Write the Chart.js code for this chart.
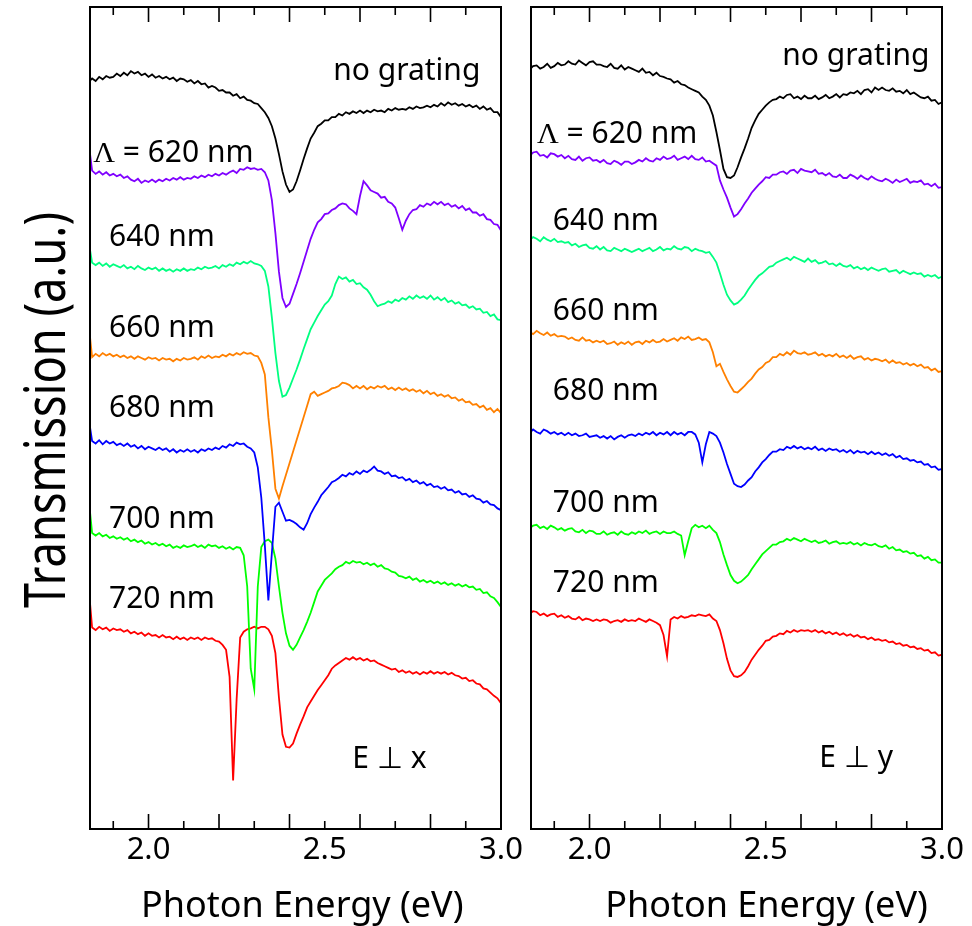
<!DOCTYPE html>
<html>
<head>
<meta charset="utf-8">
<script src="https://cdn.jsdelivr.net/npm/chart.js@4.4.1/dist/chart.umd.min.js"></script>
<style>
  html, body { margin: 0; padding: 0; background: #fff; }
  #wrap { position: relative; width: 972px; height: 926px; }
  canvas { position: absolute; top: 0; }
  #left-panel { left: 0; }
  #right-panel { left: 510px; }
</style>
</head>
<body>
<div id="wrap">
  <canvas id="left-panel" width="528" height="926"></canvas>
  <canvas id="right-panel" width="462" height="926"></canvas>
</div>
<script>
/* ---------- data ---------- */
// photon energy (eV), one reading every 10 meV
const energyGrid = [
  1.83,1.84,1.85,1.86,1.87,1.88,1.89,1.90,1.91,1.92,
  1.93,1.94,1.95,1.96,1.97,1.98,1.99,2.00,2.01,2.02,
  2.03,2.04,2.05,2.06,2.07,2.08,2.09,2.10,2.11,2.12,
  2.13,2.14,2.15,2.16,2.17,2.18,2.19,2.20,2.21,2.22,
  2.23,2.24,2.25,2.26,2.27,2.28,2.29,2.30,2.31,2.32,
  2.33,2.34,2.35,2.36,2.37,2.38,2.39,2.40,2.41,2.42,
  2.43,2.44,2.45,2.46,2.47,2.48,2.49,2.50,2.51,2.52,
  2.53,2.54,2.55,2.56,2.57,2.58,2.59,2.60,2.61,2.62,
  2.63,2.64,2.65,2.66,2.67,2.68,2.69,2.70,2.71,2.72,
  2.73,2.74,2.75,2.76,2.77,2.78,2.79,2.80,2.81,2.82,
  2.83,2.84,2.85,2.86,2.87,2.88,2.89,2.90,2.91,2.92,
  2.93,2.94,2.95,2.96,2.97,2.98,2.99,3.00
];

const seriesNames = ['no grating', 'Λ = 620 nm', '640 nm', '660 nm', '680 nm', '700 nm', '720 nm'];
const seriesColors = ['#000000', '#7f00ff', '#00ff80', '#ff8000', '#0000ff', '#00ff00', '#ff0000'];
const xTickLabels = [2.0, 2.5, 3.0];
const longTicks = [2.0, 2.2, 2.4, 2.6, 2.8];
const shortTicks = [1.9, 2.1, 2.3, 2.5, 2.7, 2.9];

// transmission (a.u., curves offset vertically) -- E ⊥ x
const leftNoGrating = [
  90.9,91.3,91.0,91.5,91.2,91.6,91.4,91.5,91.9,91.6,
  92.0,91.7,92.2,91.9,92.1,91.7,91.9,91.5,91.8,91.4,
  91.6,91.3,91.5,91.2,91.4,91.0,91.3,91.2,90.9,91.1,
  90.7,91.0,90.6,90.7,90.2,90.4,90.2,89.8,89.9,89.6,
  89.6,89.2,89.4,88.9,89.1,88.7,88.6,88.3,88.2,87.7,
  87.2,86.5,85.5,84.0,82.1,80.0,78.4,77.5,77.8,78.8,
  80.1,81.5,82.8,84.0,84.7,85.5,85.8,86.2,86.2,86.6,
  86.6,87.0,86.8,87.2,87.0,87.3,87.1,87.4,87.1,87.4,
  87.2,87.5,87.3,87.4,87.2,87.6,87.4,87.7,87.5,87.6,
  87.5,87.8,87.6,87.9,87.7,87.8,88.0,87.8,88.1,87.9,
  88.3,88.0,88.4,88.1,88.3,88.0,88.2,87.9,88.1,87.8,
  88.0,87.6,87.9,87.5,87.7,87.2,87.2,86.6
];
const left620 = [
  83.5,80.1,79.7,80.0,79.6,79.9,79.5,79.7,79.4,79.6,
  79.2,79.4,79.0,78.8,79.1,78.6,78.9,78.7,79.0,78.7,
  79.0,78.8,79.1,78.9,79.2,79.0,79.3,79.0,79.2,79.1,
  79.4,79.2,79.5,79.3,79.6,79.4,79.7,79.5,79.8,79.6,
  79.9,80.1,79.8,80.3,80.2,80.5,80.3,80.4,80.2,80.3,
  79.9,78.9,76.5,72.5,67.8,64.6,63.5,63.9,65.1,66.3,
  67.6,69.0,70.4,71.8,72.9,73.8,74.2,74.8,74.9,75.3,
  75.5,75.9,76.1,76.0,75.5,75.2,74.8,77.0,78.8,78.3,
  77.7,77.5,77.3,76.8,76.9,76.3,76.1,75.6,74.3,72.9,
  74.0,74.8,75.3,75.4,75.9,75.7,76.1,75.9,76.3,76.0,
  76.3,75.9,76.1,75.7,75.9,75.5,75.8,75.3,75.5,75.0,
  75.0,74.6,74.8,74.2,74.1,73.6,73.5,72.8
];
const left640 = [
  71.5,68.9,68.6,68.9,68.5,68.8,68.4,68.7,68.5,68.3,
  68.6,68.2,68.4,68.1,68.5,68.2,68.0,68.3,68.1,68.3,
  67.9,68.2,67.9,68.1,67.8,68.1,67.9,68.2,67.9,68.1,
  68.0,68.3,68.1,68.4,68.2,68.3,68.5,68.2,68.6,68.4,
  68.7,68.5,68.9,68.7,69.0,68.8,69.1,68.8,68.7,68.5,
  67.9,66.0,62.2,57.9,54.5,52.6,52.8,53.7,54.8,55.9,
  57.1,58.4,59.6,60.8,61.6,62.4,63.1,63.8,64.2,64.9,
  66.3,67.2,66.9,67.1,66.6,66.8,66.3,66.4,65.9,65.6,
  65.0,64.2,63.6,63.8,63.9,64.2,64.0,64.4,64.2,64.6,
  64.4,64.8,64.5,64.9,64.6,64.8,64.5,64.9,64.4,64.7,
  64.3,64.6,64.1,64.3,63.9,64.1,63.7,63.8,63.4,63.6,
  63.2,63.3,62.8,62.9,62.4,62.6,62.0,61.9
];
const left660 = [
  61.5,57.4,57.8,57.5,57.9,57.6,57.8,57.5,57.7,57.4,
  57.6,57.3,57.5,57.2,57.5,57.3,57.1,57.4,57.2,57.3,
  57.0,57.3,57.1,57.2,56.9,57.2,57.0,57.3,57.1,57.2,
  57.4,57.1,57.5,57.3,57.6,57.3,57.5,57.4,57.7,57.5,
  57.8,57.6,57.9,57.7,58.0,57.8,57.9,57.6,57.5,56.7,
  55.3,50.1,46.1,41.4,40.2,41.7,43.1,44.5,45.9,47.3,
  48.7,50.1,51.5,52.9,53.2,52.7,52.9,53.1,53.3,53.6,
  53.7,53.9,54.3,54.2,54.0,53.6,53.9,53.6,53.9,53.5,
  53.8,53.6,53.9,53.7,53.9,53.5,53.7,53.4,53.7,53.4,
  53.6,53.3,53.5,53.2,53.4,53.0,53.3,52.9,53.1,52.7,
  52.9,52.6,52.8,52.4,52.5,52.1,52.3,51.9,52.0,51.6,
  51.7,51.3,51.5,51.0,51.2,50.7,51.1,50.6
];
const left680 = [
  50.0,47.2,46.9,47.3,46.8,47.2,46.9,47.1,46.7,46.9,
  46.6,46.9,46.5,46.7,46.3,46.6,46.2,46.5,46.3,46.1,
  46.4,46.1,46.3,45.9,46.2,45.8,46.1,45.9,46.2,45.9,
  46.1,45.8,46.2,46.0,46.3,46.1,46.4,46.2,46.6,46.4,
  46.8,46.6,47.0,46.8,46.9,46.5,46.3,45.8,44.0,40.3,
  34.5,27.8,33.6,39.2,39.7,38.6,37.5,37.6,37.4,37.1,
  36.7,36.4,37.2,38.3,39.1,39.8,40.6,41.1,41.6,42.2,
  42.4,42.7,43.1,42.9,43.3,43.1,43.5,43.2,43.6,43.4,
  43.7,44.1,43.6,43.5,43.2,43.4,42.9,43.0,42.7,42.8,
  42.4,42.6,42.2,42.4,42.0,42.2,41.8,42.0,41.6,41.7,
  41.4,41.6,41.2,41.3,40.9,41.1,40.7,40.8,40.4,40.6,
  40.2,40.1,39.7,39.9,39.5,39.4,39.0,38.8
];
const left700 = [
  40.3,36.0,35.7,36.0,35.6,35.8,35.4,35.6,35.3,35.5,
  35.2,35.4,35.0,35.2,34.9,35.1,34.7,34.9,34.6,34.8,
  34.5,34.7,34.4,34.6,34.2,34.4,34.2,34.5,34.3,34.4,
  34.6,34.3,34.5,34.2,34.6,34.4,34.5,34.2,34.4,34.1,
  34.3,34.0,34.3,34.2,33.3,29.5,19.5,17.0,29.5,34.3,
  35.0,35.2,34.8,32.9,29.5,26.3,23.8,22.3,21.8,22.4,
  23.3,24.2,25.2,26.3,27.6,28.9,29.6,30.3,30.7,31.1,
  31.6,31.9,32.1,32.5,32.3,32.6,32.4,32.5,32.2,32.4,
  32.1,32.3,31.9,32.1,31.7,31.6,31.3,31.2,30.8,30.7,
  30.5,30.7,30.3,30.5,30.1,30.3,30.0,30.2,29.9,30.1,
  29.8,30.0,29.7,29.9,29.6,29.8,29.5,29.7,29.4,29.5,
  29.1,29.2,28.7,28.8,28.3,28.1,27.6,27.0
];
const left720 = [
  29.5,24.5,24.2,24.6,24.3,24.5,24.1,24.4,24.2,24.3,
  24.0,24.2,23.8,24.0,23.7,23.9,23.5,23.8,23.5,23.6,
  23.3,23.6,23.3,23.4,23.1,23.4,23.1,23.3,23.0,23.3,
  23.1,23.3,23.0,23.3,23.1,23.2,22.9,22.8,22.4,21.8,
  18.5,5.9,15.8,23.3,24.0,24.3,24.4,24.6,24.4,24.6,
  24.6,24.3,23.5,21.4,16.0,11.5,10.0,9.9,10.4,11.6,
  12.7,13.7,14.8,15.5,16.2,16.9,17.5,18.1,18.7,19.5,
  19.9,20.2,20.5,20.8,20.6,20.9,20.6,20.8,20.5,20.7,
  20.4,20.5,20.2,20.0,19.8,19.6,19.4,19.5,19.1,19.3,
  19.0,19.2,18.9,19.1,18.8,19.1,18.9,19.2,18.9,19.1,
  18.9,19.1,18.8,19.0,18.7,18.6,18.3,18.4,18.0,18.1,
  17.7,17.6,17.1,17.0,16.6,16.2,15.9,15.3
];

// E ⊥ y
const rightNoGrating = [
  92.4,92.8,92.9,92.5,92.7,93.1,92.6,92.8,93.2,92.9,
  93.0,93.4,93.1,93.0,93.5,93.2,92.9,93.3,93.4,93.0,
  93.0,92.8,92.7,93.1,92.6,92.5,92.9,92.4,92.7,92.5,
  92.3,92.1,92.5,92.0,92.1,91.7,92.0,91.6,91.5,91.3,
  91.2,90.8,91.0,90.6,90.5,90.2,90.0,89.8,89.6,89.1,
  88.7,88.0,86.8,84.8,82.6,80.3,79.3,79.2,79.5,80.5,
  81.7,82.8,84.0,85.3,86.2,87.0,87.5,88.0,88.4,88.7,
  88.8,89.1,88.9,89.3,89.4,88.9,89.1,88.8,89.2,88.9,
  88.9,89.2,88.8,89.0,89.3,88.9,89.1,89.4,89.0,89.4,
  89.3,89.6,89.5,89.8,89.4,89.9,90.0,89.6,90.2,89.9,
  90.2,89.9,89.8,90.1,89.7,89.8,89.5,89.9,89.4,89.6,
  89.3,89.0,88.9,89.1,88.6,88.7,88.2,88.4
];
const right620 = [
  81.9,82.3,82.4,81.9,82.0,81.7,82.2,82.1,81.8,82.0,
  81.6,81.9,81.5,81.4,81.8,81.3,81.6,81.7,81.3,81.4,
  81.1,81.4,81.0,80.9,81.3,81.1,80.8,81.2,81.2,80.9,
  81.1,81.4,81.2,81.6,81.3,81.2,81.6,81.4,81.8,81.5,
  81.6,81.9,81.4,81.6,81.8,81.5,81.9,81.5,81.4,81.7,
  81.2,81.3,81.0,80.7,78.9,77.8,76.8,75.6,74.5,74.8,
  75.4,76.1,76.7,77.4,77.9,78.4,78.8,79.3,79.2,79.6,
  79.6,79.9,80.0,79.7,80.1,80.2,79.8,80.3,80.1,80.0,
  79.9,80.2,79.7,79.8,79.5,79.8,79.4,79.3,79.6,79.2,
  79.2,79.6,79.4,79.1,79.5,79.2,79.0,79.4,79.1,78.9,
  78.8,79.1,78.9,78.6,79.0,78.7,78.9,79.1,78.6,78.8,
  78.7,78.9,78.4,78.5,78.2,78.5,78.0,78.1
];
const right640 = [
  71.6,72.0,71.8,71.5,72.0,71.7,71.5,71.8,71.4,71.5,
  71.3,71.4,71.0,71.2,70.8,71.0,71.1,70.7,70.6,70.9,
  70.5,70.8,70.4,70.3,70.7,70.5,70.3,70.6,70.4,70.2,
  70.4,70.6,70.3,70.5,70.7,70.3,70.5,70.8,70.4,70.6,
  70.5,70.9,70.6,70.5,70.8,70.7,70.3,70.6,70.4,70.3,
  70.1,70.2,69.6,68.9,67.6,66.2,65.0,64.3,63.8,64.0,
  64.4,64.9,65.6,66.2,66.8,67.3,67.6,68.0,68.4,68.5,
  68.9,69.1,69.3,69.5,69.2,69.6,69.4,69.2,69.0,69.4,
  69.0,69.2,68.8,68.9,69.1,68.7,68.8,68.5,68.8,68.5,
  68.4,68.6,68.2,68.4,68.1,68.3,68.0,68.3,68.1,67.9,
  68.1,68.2,67.8,67.9,68.0,67.6,67.9,67.7,67.5,67.7,
  67.5,67.6,67.2,67.4,67.2,67.4,67.0,67.2
];
const right660 = [
  60.5,60.2,60.6,60.3,60.1,60.4,60.0,60.2,59.9,60.0,
  59.9,59.6,59.8,59.5,59.4,59.8,59.4,59.5,59.2,59.4,
  59.2,59.4,59.0,59.1,59.3,58.9,59.2,59.0,59.3,58.9,
  59.2,59.3,59.0,59.4,59.2,59.5,59.2,59.3,59.6,59.3,
  59.5,59.7,59.4,59.8,59.6,59.9,59.5,59.6,59.8,59.5,
  59.6,59.2,58.0,56.3,56.6,55.6,54.7,53.9,53.2,53.1,
  53.5,53.9,54.4,54.8,55.4,55.9,56.2,56.7,56.9,57.4,
  57.4,57.8,57.6,58.0,57.7,58.2,57.9,57.8,58.0,57.7,
  57.8,58.0,57.6,57.8,57.5,57.7,57.5,57.8,57.4,57.6,
  57.3,57.6,57.2,57.4,57.5,57.1,57.3,57.0,57.2,57.1,
  56.9,57.1,56.7,57.0,56.7,56.8,56.5,56.7,56.4,56.6,
  56.3,56.5,56.1,56.2,55.8,56.0,55.6,55.7
];
const right680 = [
  48.2,48.6,48.3,48.1,48.6,48.4,48.1,48.3,48.0,48.2,
  47.9,48.2,47.9,48.1,47.8,47.9,48.1,47.7,47.8,47.9,
  47.6,47.8,47.5,47.8,47.4,47.7,47.9,47.6,47.9,48.0,
  47.8,48.1,47.9,48.2,48.0,48.3,47.9,48.2,48.0,48.3,
  47.9,48.3,48.0,48.2,47.9,48.3,48.3,48.0,47.0,44.6,
  46.8,48.3,48.1,47.8,47.0,45.8,44.4,43.2,42.0,41.7,
  41.6,41.9,42.4,42.8,43.5,44.0,44.6,45.0,45.5,45.9,
  45.9,46.2,46.1,46.5,46.3,46.6,46.3,46.5,46.2,46.4,
  46.2,46.5,46.1,46.3,46.0,46.3,46.1,46.2,45.9,46.1,
  45.8,46.1,45.7,46.0,45.8,45.9,45.6,45.9,45.6,45.8,
  45.5,45.7,45.4,45.6,45.2,45.4,45.0,45.1,44.8,44.9,
  44.6,44.7,44.3,44.4,44.0,44.1,43.7,43.8
];
const right700 = [
  36.6,36.9,37.0,36.6,36.8,36.5,36.9,36.7,36.4,36.6,
  36.3,36.5,36.6,36.2,36.1,36.4,36.0,36.3,36.2,35.9,
  35.9,36.2,35.8,36.0,36.1,35.8,36.2,35.9,35.8,36.1,
  35.9,36.2,36.0,36.3,35.9,36.1,36.2,35.9,36.2,36.0,
  36.0,36.2,35.9,35.7,33.3,35.0,36.6,37.0,36.7,36.9,
  36.6,36.9,36.4,36.0,34.9,33.4,32.1,30.9,30.2,29.9,
  30.1,30.5,30.9,31.6,32.2,32.8,33.4,33.8,34.2,34.6,
  34.6,34.9,35.0,35.3,35.1,35.4,35.2,35.0,35.3,35.1,
  34.9,35.1,34.8,34.9,35.1,34.7,34.9,35.0,34.7,34.8,
  34.7,34.9,34.6,34.8,34.5,34.8,34.6,34.5,34.7,34.4,
  34.3,34.5,34.1,34.3,33.9,34.0,33.7,33.8,33.5,33.6,
  33.2,33.3,32.9,33.1,32.7,32.8,32.4,32.4
];
const right720 = [
  26.2,26.5,26.4,26.0,26.2,25.9,26.1,26.2,25.8,26.0,
  25.7,25.9,25.6,25.5,25.8,25.4,25.6,25.5,25.3,25.5,
  25.3,25.5,25.4,25.1,25.3,25.4,25.2,25.5,25.3,25.4,
  25.3,25.6,25.4,25.2,25.5,25.3,25.1,24.8,23.6,21.0,
  25.5,25.8,25.6,25.9,25.7,25.8,26.0,25.9,26.1,26.0,
  25.9,26.1,25.6,25.3,24.2,22.6,20.7,19.3,18.6,18.5,
  18.7,19.1,19.8,20.6,21.2,21.8,22.3,22.9,23.0,23.4,
  23.5,23.8,23.7,24.1,23.9,24.2,24.0,24.2,24.1,24.2,
  24.0,24.2,23.9,24.1,23.8,24.0,23.7,23.9,23.6,23.8,
  23.5,23.7,23.4,23.6,23.3,23.4,23.1,23.3,23.0,23.1,
  22.9,23.0,22.7,22.8,22.5,22.6,22.3,22.4,22.1,22.2,
  21.9,22.0,21.7,21.8,21.4,21.5,21.1,21.2
];

const leftSeries = [leftNoGrating, left620, left640, left660, left680, left700, left720];
const rightSeries = [rightNoGrating, right620, right640, right660, right680, right700, right720];

/* ---------- label placement (eV, a.u.) ---------- */
const leftLabelAt = [[2.524,91.1],[1.843,81.2],[1.888,70.9],[1.888,59.9],[1.888,50.1],[1.888,36.6],[1.888,26.9]];
const rightLabelAt = [[2.547,92.9],[1.851,83.5],[1.896,72.9],[1.896,61.9],[1.896,52.2],[1.896,38.6],[1.896,28.8]];

const TEXT_FONT = '"Noto Sans", "DejaVu Sans", sans-serif';

/* ---------- frame, inward ticks, annotations ---------- */
const panelDecor = {
  id: 'panelDecor',
  afterDatasetsDraw(chart, args, opts){
    const {ctx, chartArea: a, scales: {x, y}} = chart;
    ctx.save();
    ctx.strokeStyle = '#000';
    ctx.lineWidth = 2;
    ctx.strokeRect(a.left, a.top, a.right - a.left, a.bottom - a.top);

    // tick marks point inward, top and bottom
    ctx.lineWidth = 1.6;
    const mark = (v, len) => {
      const px = x.getPixelForValue(v);
      ctx.beginPath();
      ctx.moveTo(px, a.top); ctx.lineTo(px, a.top + len);
      ctx.moveTo(px, a.bottom); ctx.lineTo(px, a.bottom - len);
      ctx.stroke();
    };
    longTicks.forEach(v => mark(v, 15));
    shortTicks.forEach(v => mark(v, 8));

    // curve labels
    ctx.fillStyle = '#000';
    ctx.textBaseline = 'alphabetic';
    ctx.textAlign = 'left';
    opts.labels.forEach(([text, ex, ty]) => {
      let px = x.getPixelForValue(ex);
      const py = y.getPixelForValue(ty);
      if (text.startsWith('Λ')){
        ctx.font = '30px "Liberation Serif", serif';
        ctx.fillText('Λ', px, py);
        px += ctx.measureText('Λ').width;
        text = text.slice(1);
      }
      ctx.font = '30px ' + TEXT_FONT;
      ctx.fillText(text, px, py);
    });

    // x axis title
    ctx.font = '36px ' + TEXT_FONT;
    ctx.textAlign = 'center';
    ctx.fillText('Photon Energy (eV)', x.getPixelForValue(opts.xTitleAt), 917);

    // y axis title (tall, narrow lettering)
    if (opts.yTitle){
      ctx.save();
      ctx.translate(65, 410);
      ctx.rotate(-Math.PI / 2);
      ctx.font = '56px ' + TEXT_FONT;
      const w = ctx.measureText(opts.yTitle).width;
      ctx.scale(396 / w, 1);
      ctx.textAlign = 'center';
      ctx.fillText(opts.yTitle, 0, 0);
      ctx.restore();
    }
    ctx.restore();
  }
};

function buildPanel(canvasId, series, labelAt, extra){
  const datasets = series.map((vals, i) => ({
    label: seriesNames[i],
    data: energyGrid.map((e, k) => ({x: e, y: vals[k]})),
    borderColor: seriesColors[i],
    borderWidth: 1.8,
    pointRadius: 0,
    tension: 0,
    fill: false
  }));
  const labels = seriesNames.map((n, i) => [n, labelAt[i][0], labelAt[i][1]]);
  labels.push([extra.pol, extra.polAt[0], extra.polAt[1]]);

  return new Chart(document.getElementById(canvasId), {
    type: 'line',
    data: { datasets },
    plugins: [panelDecor],
    options: {
      responsive: false,
      animation: false,
      events: [],
      layout: { padding: extra.padding },
      plugins: {
        legend: { display: false },
        tooltip: { enabled: false },
        panelDecor: { labels, xTitleAt: extra.xTitleAt, yTitle: extra.yTitle }
      },
      scales: {
        x: {
          type: 'linear',
          min: 1.834,
          max: 3.0,
          afterBuildTicks: s => { s.ticks = xTickLabels.map(v => ({ value: v })); },
          afterFit: s => { s.height = 97; },
          grid: { display: false, drawTicks: false },
          border: { display: false },
          ticks: {
            autoSkip: false,
            maxRotation: 0,
            padding: 3,
            color: '#000',
            font: { family: 'Noto Sans', size: 31 },
            callback: v => Number(v).toFixed(1)
          }
        },
        y: { display: false, min: 0, max: 100 }
      }
    }
  });
}

buildPanel('left-panel', leftSeries, leftLabelAt, {
  padding: { left: 90, right: 27, top: 7, bottom: 0 },
  pol: 'E ⊥ x', polAt: [2.578, 7.4],
  xTitleAt: 2.436,
  yTitle: 'Transmission (a.u.)'
});
buildPanel('right-panel', rightSeries, rightLabelAt, {
  padding: { left: 21, right: 30, top: 7, bottom: 0 },
  pol: 'E ⊥ y', polAt: [2.652, 7.5],
  xTitleAt: 2.502,
  yTitle: null
});
</script>
</body>
</html>
